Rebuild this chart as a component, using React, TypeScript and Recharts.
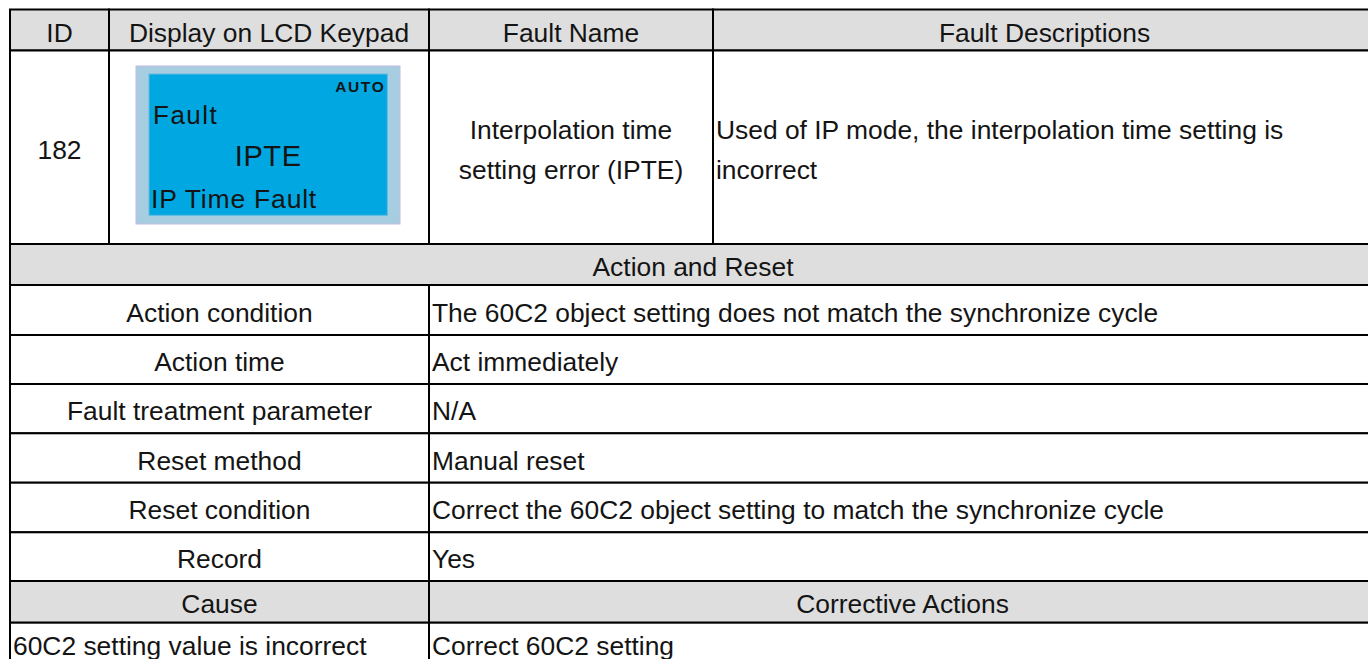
import React from "react";
import { ComposedChart, XAxis, YAxis, ReferenceArea } from "recharts";

// ---------- table content ----------
const headers = ["ID", "Display on LCD Keypad", "Fault Name", "Fault Descriptions"];
const faultId = "182";
const lcdAuto = "AUTO";
const lcdLines = ["Fault", "IPTE", "IP Time Fault"];
const faultName = ["Interpolation time", "setting error (IPTE)"];
const faultDescription = ["Used of IP mode, the interpolation time setting is", "incorrect"];
const sectionTitle = "Action and Reset";
const actionLabels = [
  "Action condition",
  "Action time",
  "Fault treatment parameter",
  "Reset method",
  "Reset condition",
  "Record",
];
const actionValues = [
  "The 60C2 object setting does not match the synchronize cycle",
  "Act immediately",
  "N/A",
  "Manual reset",
  "Correct the 60C2 object setting to match the synchronize cycle",
  "Yes",
];
const causeHeaders = ["Cause", "Corrective Actions"];
const causes = ["60C2 setting value is incorrect"];
const correctiveActions = ["Correct 60C2 setting"];

// ---------- layout (axis units = pixels) ----------
const W = 1368;
const H = 659;
const colX = [10, 109, 429, 713, 1376];
const rowY = [9.5, 50.5, 244, 285, 335, 384, 433.3, 482.7, 532.3, 581, 622.7, 665];
const lcdOuter = { x1: 136, x2: 400, y1: 66, y2: 224 };
const lcdInner = { x1: 149, x2: 387.3, y1: 74, y2: 215.3 };

const FONT = "'Liberation Sans', Arial, Helvetica, sans-serif";
const FS = 26.4;
const GRAY = "#dedede";
const INK = "#141414";

type Cell = {
  x1: number;
  x2: number;
  y1: number;
  y2: number;
  fill: string;
  lines: string[];
  align: "center" | "left";
};

const cells: Cell[] = [];
// header row
headers.forEach((h, i) =>
  cells.push({ x1: colX[i], x2: colX[i + 1], y1: rowY[0], y2: rowY[1], fill: GRAY, lines: [h], align: "center" })
);
// fault row
cells.push({ x1: colX[0], x2: colX[1], y1: rowY[1], y2: rowY[2], fill: "#fff", lines: [faultId], align: "center" });
cells.push({ x1: colX[1], x2: colX[2], y1: rowY[1], y2: rowY[2], fill: "#fff", lines: [], align: "center" });
cells.push({ x1: colX[2], x2: colX[3], y1: rowY[1], y2: rowY[2], fill: "#fff", lines: faultName, align: "center" });
cells.push({ x1: colX[3], x2: colX[4], y1: rowY[1], y2: rowY[2], fill: "#fff", lines: faultDescription, align: "left" });
// section title
cells.push({ x1: colX[0], x2: colX[4], y1: rowY[2], y2: rowY[3], fill: GRAY, lines: [sectionTitle], align: "center" });
// action rows
actionLabels.forEach((label, i) => {
  cells.push({ x1: colX[0], x2: colX[2], y1: rowY[3 + i], y2: rowY[4 + i], fill: "#fff", lines: [label], align: "center" });
  cells.push({ x1: colX[2], x2: colX[4], y1: rowY[3 + i], y2: rowY[4 + i], fill: "#fff", lines: [actionValues[i]], align: "left" });
});
// cause header
cells.push({ x1: colX[0], x2: colX[2], y1: rowY[9], y2: rowY[10], fill: GRAY, lines: [causeHeaders[0]], align: "center" });
cells.push({ x1: colX[2], x2: colX[4], y1: rowY[9], y2: rowY[10], fill: GRAY, lines: [causeHeaders[1]], align: "center" });
// causes
causes.forEach((c, i) => {
  cells.push({ x1: colX[0], x2: colX[2], y1: rowY[10 + i], y2: rowY[11 + i], fill: "#fff", lines: [c], align: "left" });
  cells.push({ x1: colX[2], x2: colX[4], y1: rowY[10 + i], y2: rowY[11 + i], fill: "#fff", lines: [correctiveActions[i]], align: "left" });
});

const cellShape = (cell: Cell) => (p: any) => {
  const { x, y, width, height } = p;
  const lh = 40;
  const n = cell.lines.length;
  const base = y + height / 2 + 11.5 - ((n - 1) * lh) / 2;
  return (
    <g>
      <rect x={x} y={y} width={width} height={height} fill={cell.fill} stroke="#000" strokeWidth={2} />
      {cell.lines.map((t, i) => (
        <text
          key={i}
          x={cell.align === "center" ? x + width / 2 : x + 3}
          y={base + i * lh}
          textAnchor={cell.align === "center" ? "middle" : "start"}
          fontFamily={FONT}
          fontSize={FS}
          fill={INK}
        >
          {t}
        </text>
      ))}
    </g>
  );
};

const outerShape = (p: any) => (
  <rect x={p.x} y={p.y} width={p.width} height={p.height} fill="#a7cde0" stroke="#c3bce2" strokeWidth={1} />
);

const innerShape = (p: any) => {
  const { x, y, width, height } = p;
  return (
    <g>
      <rect x={x} y={y} width={width} height={height} fill="#00a7e1" stroke="#62b9e2" strokeWidth={1} />
      <text x={x + width - 2} y={y + 18.3} textAnchor="end" fontFamily={FONT} fontWeight="bold" fontSize={15.5} letterSpacing={1.6} fill={INK}>
        {lcdAuto}
      </text>
      <text x={x + 4} y={y + 50} fontFamily={FONT} fontSize={26} letterSpacing={1.5} fill={INK}>
        {lcdLines[0]}
      </text>
      <text x={x + width / 2} y={y + 92} textAnchor="middle" fontFamily={FONT} fontSize={29} letterSpacing={0.6} fill={INK}>
        {lcdLines[1]}
      </text>
      <text x={x + 2} y={y + 134} fontFamily={FONT} fontSize={26.5} letterSpacing={0.8} fill={INK}>
        {lcdLines[2]}
      </text>
    </g>
  );
};

export default function App() {
  return (
    <div style={{ position: "absolute", left: 0, top: 0, width: W, height: H, background: "#fff" }}>
      <ComposedChart width={W} height={H} data={[]} margin={{ top: 0, right: 0, bottom: 0, left: 0 }}>
        <XAxis type="number" dataKey="x" domain={[0, W]} allowDataOverflow hide />
        <YAxis type="number" dataKey="y" domain={[0, H]} reversed allowDataOverflow hide />
        {cells.map((c, i) => (
          <ReferenceArea
            key={i}
            x1={c.x1}
            x2={c.x2}
            y1={c.y1}
            y2={c.y2}
            ifOverflow="visible"
            fillOpacity={1}
            shape={cellShape(c)}
          />
        ))}
        <ReferenceArea {...lcdOuter} ifOverflow="visible" shape={outerShape} />
        <ReferenceArea {...lcdInner} ifOverflow="visible" shape={innerShape} />
      </ComposedChart>
    </div>
  );
}
